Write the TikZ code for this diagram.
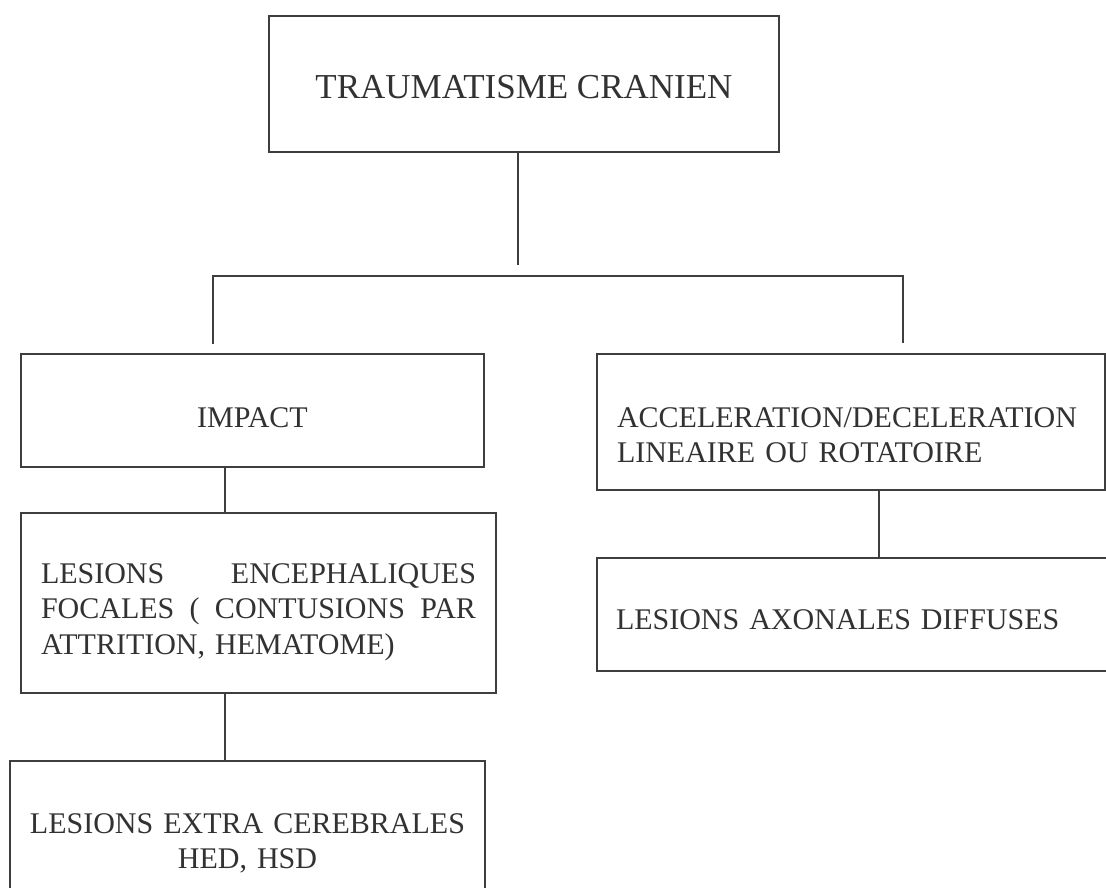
\documentclass[tikz,border=0pt]{standalone}
\usepackage{fontspec}
\setmainfont{Liberation Serif}
\definecolor{lc}{RGB}{62,62,62}
\definecolor{tc}{RGB}{50,50,52}
\newcommand{\jline}[1]{\leavevmode\hbox to 435pt{#1}}
\begin{document}
\begin{tikzpicture}[x=1pt,y=-1pt,
  box/.style={draw=lc, line width=1.3pt, rectangle, text=tc, inner ysep=0pt,
    font=\fontsize{30}{35.5}\selectfont},
  link/.style={draw=lc, line width=1.3pt}]
\clip (0,0) rectangle (1106,888);
\fill[white] (0,0) rectangle (1106,888);
% boxes
\node[box, font=\fontsize{35}{40}\selectfont, minimum width=510pt, minimum height=136pt,
  text height=30pt, text depth=0pt] (T) at (524,84) {TRAUMATISME CRANIEN};
\node[box, minimum width=463pt, minimum height=113pt,
  text height=33pt, text depth=0pt] (I) at (252.5,410.5) {IMPACT};
\node[box, minimum width=508pt, minimum height=136pt, text width=468pt, inner xsep=20pt,
  align=left, text height=30pt, text depth=20pt] (A) at (851,422)
  {ACCELERATION/DECELERATION\\LINEAIRE OU ROTATOIRE};
\node[box, minimum width=475pt, minimum height=180pt, text width=435pt, inner xsep=20pt,
  align=left, text height=10pt, text depth=50pt] (E) at (258.5,603)
  {\jline{LESIONS\hfill ENCEPHALIQUES}\\
   \jline{FOCALES \hfill ( \hfill CONTUSIONS \hfill PAR}\\
   ATTRITION, HEMATOME)};
\node[box, minimum width=475pt, minimum height=144pt, text width=471pt, inner xsep=2pt,
  align=center, text height=20pt, text depth=20pt] (B) at (247.5,833)
  {LESIONS EXTRA CEREBRALES\\HED, HSD};
\node[box, minimum width=533pt, minimum height=113pt, text width=495pt, inner xsep=19pt,
  align=left, text height=29pt, text depth=0pt] (X) at (863.5,614.5)
  {LESIONS AXONALES DIFFUSES};
% connectors
\coordinate (x1) at (518,265);
\draw[link] (T.south -| x1) -- (x1);
\coordinate (hl) at (213,276);
\coordinate (hr) at (903,276);
\coordinate (il) at (213,344);
\coordinate (ar) at (903,343);
\draw[link] (il) -- (hl) -- (hr) -- (ar);
\coordinate (x2) at (225,0);
\draw[link] (I.south -| x2) -- (E.north -| x2);
\draw[link] (E.south -| x2) -- (B.north -| x2);
\coordinate (x3) at (879,0);
\draw[link] (A.south -| x3) -- (X.north -| x3);
\end{tikzpicture}
\end{document}
